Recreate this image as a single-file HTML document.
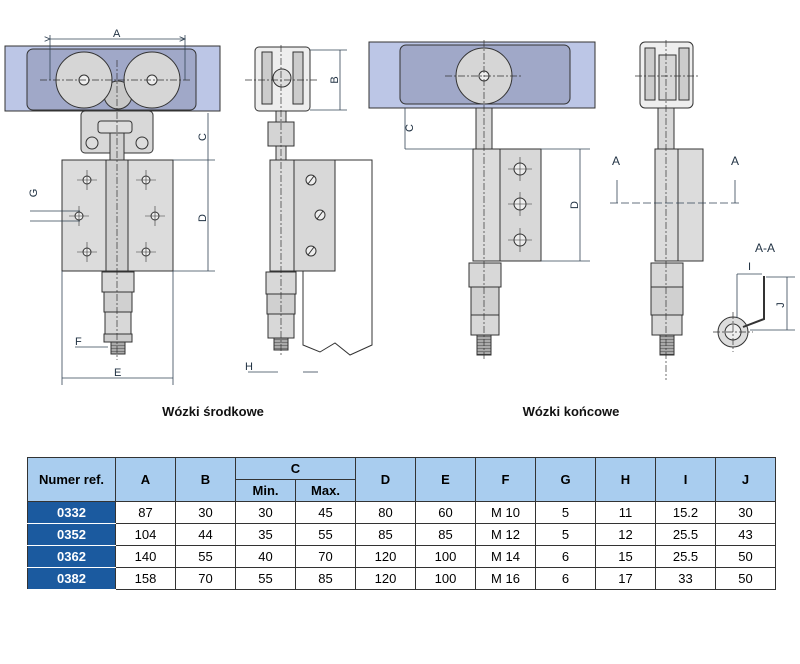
<!DOCTYPE html>
<html><head><meta charset="utf-8"><style>
body{margin:0;background:#fff;width:800px;height:664px;overflow:hidden;font-family:"Liberation Sans",sans-serif}
svg{position:absolute;left:0;top:0}
table{position:absolute;left:27px;top:457px;border-collapse:collapse;font-family:"Liberation Sans",sans-serif;font-size:13px;table-layout:fixed}
td,th{border:1px solid #333;text-align:center;padding:0;height:21px}
th{background:#a9cdef;font-weight:bold;font-size:13px}
td.r{background:#1b5a9f;color:#fff;font-weight:bold;border-color:#fff #333}
</style></head><body>
<svg width="800" height="450" viewBox="0 0 800 450" font-family="Liberation Sans, sans-serif">
<defs><marker id="ar" markerWidth="8" markerHeight="6" refX="7" refY="3" orient="auto"><path d="M0,0L7,3L0,6" fill="none" stroke="#345"/></marker>
<pattern id="th" width="4" height="3" patternUnits="userSpaceOnUse"><rect width="4" height="3" fill="#aaa"/><line x1="0" y1="0" x2="4" y2="0" stroke="#444"/></pattern></defs>
<g stroke="#333" stroke-width="1">
<!-- left front -->
<rect x="5" y="46" width="215" height="65" fill="#bcc6e6"/>
<rect x="27" y="49" width="169" height="61" rx="6" fill="#a0a8c8"/>
<rect x="81" y="111" width="72" height="42" rx="4" fill="#d8d8d8"/>
<rect x="98" y="121" width="34" height="12" rx="3" fill="#ddd"/>
<circle cx="92" cy="143" r="6" fill="#ddd"/><circle cx="142" cy="143" r="6" fill="#ddd"/>
<circle cx="118" cy="95" r="14" fill="#c8c8c8"/>
<circle cx="84" cy="80" r="28" fill="#d6d6d6"/><circle cx="152" cy="80" r="28" fill="#d6d6d6"/>
<circle cx="84" cy="80" r="5" fill="#eee"/><circle cx="152" cy="80" r="5" fill="#eee"/>
<rect x="110" y="133" width="14" height="27" fill="#d0d0d0"/>
<rect x="62" y="160" width="111" height="111" fill="#dcdcdc"/>
<rect x="106" y="160" width="22" height="111" fill="#d0d0d0"/>
<g fill="#eee"><circle cx="87" cy="180" r="4"/><circle cx="146" cy="180" r="4"/><circle cx="79" cy="216" r="4"/><circle cx="155" cy="216" r="4"/><circle cx="87" cy="252" r="4"/><circle cx="146" cy="252" r="4"/></g>
<rect x="102" y="272" width="32" height="20" fill="#d8d8d8"/><rect x="104" y="292" width="28" height="20" fill="#d0d0d0"/><rect x="105" y="312" width="26" height="22" fill="#d8d8d8"/><rect x="104" y="334" width="28" height="8" fill="#ccc"/><rect x="111" y="342" width="14" height="12" fill="url(#th)"/>
<!-- left side -->
<rect x="255" y="47" width="55" height="64" rx="4" fill="#eee"/>
<rect x="262" y="52" width="10" height="52" fill="#ccc"/><rect x="293" y="52" width="10" height="52" fill="#ccc"/>
<circle cx="282" cy="78" r="9" fill="#ddd"/>
<rect x="276" y="111" width="10" height="49" fill="#d8d8d8"/>
<rect x="268" y="122" width="26" height="24" fill="#d4d4d4"/>
<rect x="270" y="160" width="24" height="111" fill="#dcdcdc"/><rect x="294" y="160" width="41" height="111" fill="#d8d8d8"/>
<path d="M335 160H372V345L350 355 335 343 320 352 303 345V271" fill="none"/>
<circle cx="311" cy="180" r="5" fill="#eee"/><circle cx="320" cy="215" r="5" fill="#eee"/><circle cx="311" cy="251" r="5" fill="#eee"/>
<path d="M308 184l6-8M317 219l6-8M308 255l6-8"/>
<rect x="266" y="272" width="30" height="22" fill="#d8d8d8"/><rect x="267" y="294" width="28" height="20" fill="#d0d0d0"/><rect x="268" y="314" width="26" height="24" fill="#d8d8d8"/><rect x="274" y="338" width="14" height="12" fill="url(#th)"/>
<!-- right front -->
<rect x="369" y="42" width="226" height="66" fill="#bcc6e6"/>
<rect x="400" y="45" width="170" height="59" rx="6" fill="#a0a8c8"/>
<circle cx="484" cy="76" r="28" fill="#d6d6d6"/><circle cx="484" cy="76" r="5" fill="#eee"/>
<rect x="476" y="108" width="16" height="42" fill="#d8d8d8"/>
<rect x="473" y="149" width="27" height="112" fill="#dcdcdc"/><rect x="500" y="149" width="41" height="112" fill="#d8d8d8"/>
<circle cx="520" cy="169" r="6" fill="#eee"/><circle cx="520" cy="204" r="6" fill="#eee"/><circle cx="520" cy="240" r="6" fill="#eee"/>
<rect x="469" y="263" width="32" height="24" fill="#d8d8d8"/><rect x="471" y="287" width="28" height="28" fill="#d0d0d0"/><rect x="471" y="315" width="28" height="20" fill="#d8d8d8"/><rect x="477" y="335" width="14" height="20" fill="url(#th)"/>
<!-- right side -->
<rect x="640" y="42" width="53" height="66" rx="5" fill="#eee"/>
<rect x="645" y="48" width="10" height="52" fill="#ccc"/><rect x="679" y="48" width="10" height="52" fill="#ccc"/>
<rect x="659" y="55" width="17" height="45" fill="#d6d6d6"/>
<rect x="658" y="108" width="16" height="42" fill="#d8d8d8"/>
<rect x="655" y="149" width="48" height="112" fill="#dcdcdc"/>
<line x1="678" y1="149" x2="678" y2="261"/>
<rect x="651" y="263" width="32" height="24" fill="#d8d8d8"/><rect x="651" y="287" width="32" height="28" fill="#d0d0d0"/><rect x="652" y="315" width="30" height="20" fill="#d8d8d8"/><rect x="660" y="335" width="14" height="20" fill="url(#th)"/>
<circle cx="733" cy="332" r="15" fill="#ddd"/><circle cx="733" cy="332" r="8" fill="#eee"/>
<path d="M743 327L764 319V276" fill="none" stroke-width="2"/>
</g>
<!-- centre lines -->
<g stroke="#333" stroke-width="0.7" stroke-dasharray="7 2 2 2" fill="none">
<line x1="117" y1="60" x2="117" y2="360"/><line x1="40" y1="80" x2="190" y2="80"/>
<line x1="281" y1="45" x2="281" y2="355"/><line x1="245" y1="80" x2="318" y2="80"/>
<line x1="484" y1="40" x2="484" y2="360"/><line x1="445" y1="76" x2="522" y2="76"/>
<line x1="666" y1="40" x2="666" y2="380"/><line x1="635" y1="76" x2="698" y2="76"/>
<line x1="733" y1="312" x2="733" y2="352"/><line x1="713" y1="332" x2="753" y2="332"/>
</g>
<g stroke="#333" stroke-width="0.6">
<path d="M77 180h20M87 170v20M136 180h20M146 170v20M69 216h20M79 206v20M145 216h20M155 206v20M77 252h20M87 242v20M136 252h20M146 242v20M508 169h24M520 157v24M508 204h24M520 192v24M508 240h24M520 228v24"/>
</g>
<!-- dimension lines -->
<g stroke="#345" stroke-width="0.8" fill="none">
<line x1="50" y1="39" x2="185" y2="39" marker-end="url(#ar)" marker-start="url(#ar)"/>
<line x1="50" y1="35" x2="50" y2="80"/><line x1="185" y1="35" x2="185" y2="80"/>
<line x1="62" y1="378" x2="173" y2="378"/>
<line x1="208" y1="113" x2="208" y2="160"/><line x1="208" y1="160" x2="208" y2="271"/>
<line x1="173" y1="160" x2="215" y2="160"/><line x1="173" y1="271" x2="215" y2="271"/>
<line x1="62" y1="271" x2="62" y2="385"/><line x1="173" y1="271" x2="173" y2="385"/>
<line x1="340" y1="50" x2="340" y2="110"/><line x1="310" y1="50" x2="347" y2="50"/><line x1="310" y1="110" x2="347" y2="110"/>
<line x1="405" y1="108" x2="405" y2="149"/><line x1="580" y1="149" x2="580" y2="261"/>
<line x1="541" y1="149" x2="590" y2="149"/><line x1="541" y1="261" x2="590" y2="261"/>
<line x1="405" y1="149" x2="473" y2="149"/>
<line x1="610" y1="203" x2="742" y2="203" stroke-dasharray="8 3"/>
<line x1="617" y1="180" x2="617" y2="203"/><line x1="735" y1="180" x2="735" y2="203"/>
<line x1="737" y1="274" x2="737" y2="318"/><line x1="737" y1="274" x2="762" y2="274"/>
<line x1="787" y1="277" x2="787" y2="330"/><line x1="766" y1="277" x2="795" y2="277"/><line x1="750" y1="330" x2="795" y2="330"/>
<line x1="30" y1="211" x2="80" y2="211"/><line x1="30" y1="221" x2="80" y2="221"/>
<line x1="75" y1="347" x2="108" y2="347"/><line x1="248" y1="372" x2="278" y2="372"/><line x1="303" y1="372" x2="318" y2="372"/>
</g>
<g font-size="11" fill="#234">
<text x="113" y="37">A</text><text x="114" y="376">E</text><text x="75" y="345">F</text>
<text x="245" y="370">H</text>
<text transform="translate(206,137) rotate(-90)" text-anchor="middle">C</text>
<text transform="translate(206,218) rotate(-90)" text-anchor="middle">D</text>
<text transform="translate(338,80) rotate(-90)" text-anchor="middle">B</text>
<text transform="translate(37,193) rotate(-90)" text-anchor="middle">G</text>
<text transform="translate(413,128) rotate(-90)" text-anchor="middle">C</text>
<text transform="translate(578,205) rotate(-90)" text-anchor="middle">D</text>
<text transform="translate(784,305) rotate(-90)" text-anchor="middle">J</text>
<text x="612" y="165" font-size="12">A</text><text x="731" y="165" font-size="12">A</text>
<text x="755" y="252" font-size="12">A-A</text><text x="748" y="270">I</text>
</g>
<text x="213" y="416" font-size="13" font-weight="bold" text-anchor="middle" fill="#111">Wózki środkowe</text>
<text x="571" y="416" font-size="13" font-weight="bold" text-anchor="middle" fill="#111">Wózki końcowe</text>
</svg>
<table>
<colgroup><col style="width:88px"><col style="width:60px"><col style="width:60px"><col style="width:60px"><col style="width:60px"><col style="width:60px"><col style="width:60px"><col style="width:60px"><col style="width:60px"><col style="width:60px"><col style="width:60px"><col style="width:60px"></colgroup>
<tr><th rowspan="2">Numer ref.</th><th rowspan="2">A</th><th rowspan="2">B</th><th colspan="2">C</th><th rowspan="2">D</th><th rowspan="2">E</th><th rowspan="2">F</th><th rowspan="2">G</th><th rowspan="2">H</th><th rowspan="2">I</th><th rowspan="2">J</th></tr>
<tr><th>Min.</th><th>Max.</th></tr>
<tr><td class="r">0332</td><td>87</td><td>30</td><td>30</td><td>45</td><td>80</td><td>60</td><td>M 10</td><td>5</td><td>11</td><td>15.2</td><td>30</td></tr>
<tr><td class="r">0352</td><td>104</td><td>44</td><td>35</td><td>55</td><td>85</td><td>85</td><td>M 12</td><td>5</td><td>12</td><td>25.5</td><td>43</td></tr>
<tr><td class="r">0362</td><td>140</td><td>55</td><td>40</td><td>70</td><td>120</td><td>100</td><td>M 14</td><td>6</td><td>15</td><td>25.5</td><td>50</td></tr>
<tr><td class="r">0382</td><td>158</td><td>70</td><td>55</td><td>85</td><td>120</td><td>100</td><td>M 16</td><td>6</td><td>17</td><td>33</td><td>50</td></tr>
</table>
</body></html>
